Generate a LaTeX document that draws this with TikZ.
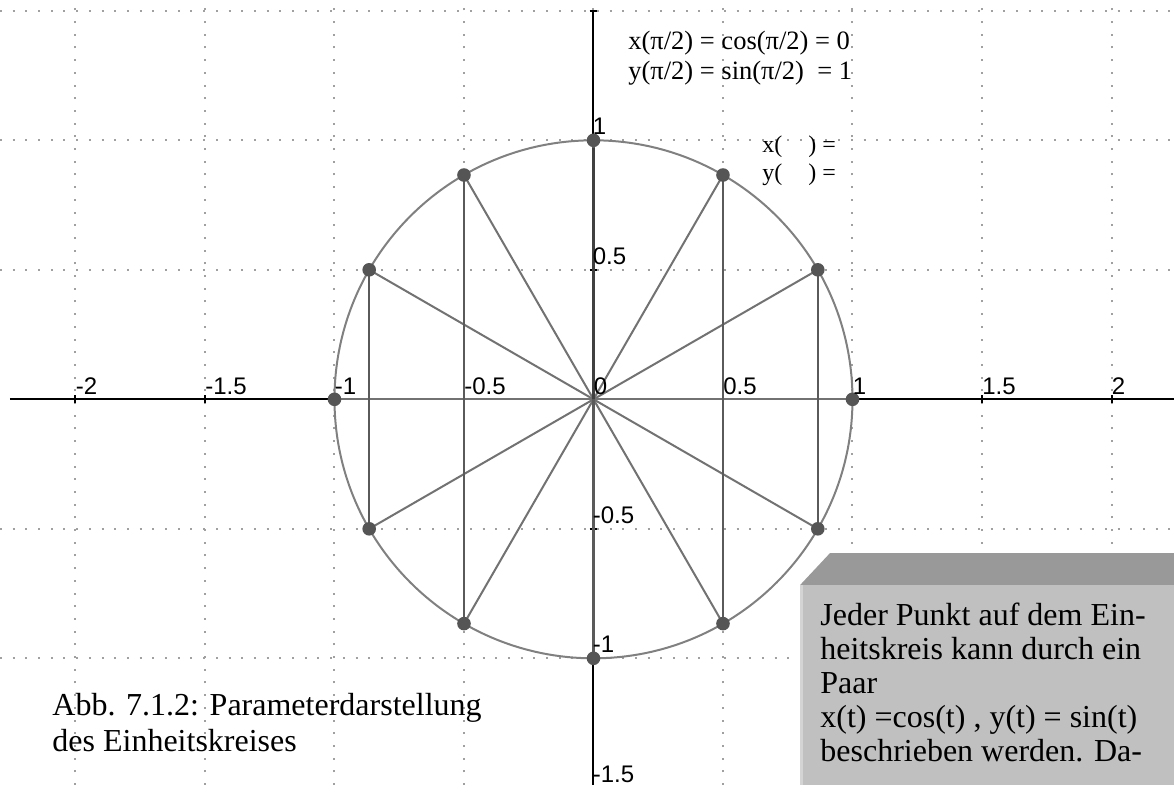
\documentclass[tikz,border=0pt]{standalone}
\usepackage{fontspec}
\setmainfont{Liberation Serif}
\newfontfamily\axisfont{Liberation Sans}
\definecolor{gridgray}{HTML}{A0A0A0}
\definecolor{circgray}{HTML}{808080}
\definecolor{raygray}{HTML}{727272}
\definecolor{vertgray}{HTML}{5A5A5A}
\definecolor{ptgray}{HTML}{555555}
\definecolor{bevelgray}{HTML}{999999}
\definecolor{facegray}{HTML}{C0C0C0}
\definecolor{edgegray}{HTML}{D4D4D4}
\begin{document}
\begin{tikzpicture}[x=129.5pt, y=129.5pt,
  griddot/.style={draw=gridgray, line width=1pt, dash pattern=on 1pt off 5.35pt},
  axisline/.style={draw=black, line width=1pt},
  axlabel/.style={font=\axisfont\fontsize{12}{12}\selectfont, inner sep=0pt, anchor=south west},
  ptdot/.style={circle, fill=ptgray, minimum size=6.8pt, inner sep=0pt},
  eqtext/.style={font=\fontsize{13.25}{15}\selectfont, inner sep=0pt, anchor=base west},
  eqsmall/.style={font=\fontsize{12}{13.5}\selectfont, inner sep=0pt, anchor=base west},
  boxtext/.style={font=\fontsize{16}{17}\selectfont, inner sep=0pt, anchor=base west}]
\useasboundingbox (-2.2915,-1.4892) rectangle (2.2413,1.5417);
% dotted grid
\foreach \x in {-2,-1.5,...,2}
  \draw[griddot] (\x,-1.4892) -- (\x,1.5417);
\foreach \y in {-1,-0.5,0.5,1,1.5}
  \draw[griddot] (-2.2915,\y) -- (2.2413,\y);
% axes
\draw[axisline] (-2.2529,0) -- (2.2413,0);
\draw[axisline] (0,1.5) -- (0,-1.4892);
\foreach \x in {-2,-1.5,...,2}
  \draw[axisline] (\x,-0.0154) -- (\x,0.0154);
\foreach \y in {-1.5,-1,...,1.5}
  \draw[axisline] (-0.0154,\y) -- (0.0154,\y);
% points on the circle
\coordinate (o) at (0,0);
\foreach \k in {0,...,11}
  \draw[raygray, line width=1pt] (o) -- (\k*30:1);
\foreach \a/\b in {1/11,2/10,3/9,4/8,5/7}
  \draw[vertgray, line width=1.2pt] (\a*30:1) -- (\b*30:1);
\draw[circgray, line width=1pt] (o) circle (1);
\foreach \k in {0,...,11}
  \node[ptdot] (p\k) at (\k*30:1) {};
\draw[black!75, line width=1.6pt] (o) -- (p3);
% axis labels
\foreach \x/\t [count=\i] in {-2/-2,-1.5/-1.5,-1/-1,-0.5/-0.5,0/0,0.5/0.5,1/1,1.5/1.5,2/2}
  \node[axlabel, yshift=2pt] (lx\i) at (\x,0) {\t};
\foreach \y/\t [count=\i] in {1/1,0.5/0.5,-0.5/-0.5,-1/-1,-1.5/-1.5}
  \node[axlabel, xshift=-0.5pt, yshift=2.5pt] (ly\i) at (0,\y) {\t};
% equations
\node[eqtext] (eqx) at (0.1332,1.3490) {x(π/2) = cos(π/2) = 0};
\node[eqtext] (eqy) at (0.1332,1.2332) {y(π/2) = sin(π/2)\ \ = 1};
\node[eqsmall] (tx) at (0.6506,0.9510) {x(\hspace{13pt}) =};
\node[eqsmall] (ty) at (0.6506,0.8467) {y(\hspace{13pt}) =};
% caption
\node[boxtext] (cap1) at (-2.0907,-1.2189) {Abb. 7.1.2: Parameterdarstellung};
\node[boxtext] (cap2) at (-2.0907,-1.3579) {des Einheitskreises};
% info box
\fill[bevelgray] (0.7973,-0.7174) -- (0.9131,-0.5938) -- (2.2413,-0.5938) -- (2.2413,-0.7174) -- cycle;
\fill[facegray] (0.7973,-0.7174) rectangle (2.2413,-1.4892);
\fill[edgegray] (0.7973,-0.7174) rectangle (0.8108,-1.4892);
\node[boxtext] (b1) at (0.8745,-0.8714) {Jeder Punkt auf dem Ein-};
\node[boxtext] (b2) at (0.8745,-1.0034) {heitskreis kann durch ein};
\node[boxtext] (b3) at (0.8745,-1.1355) {Paar};
\node[boxtext] (b4) at (0.8745,-1.2675) {x(t) =cos(t) , y(t) = sin(t)};
\node[boxtext] (b5) at (0.8745,-1.3996) {beschrieben werden. Da-};
\end{tikzpicture}
\end{document}
